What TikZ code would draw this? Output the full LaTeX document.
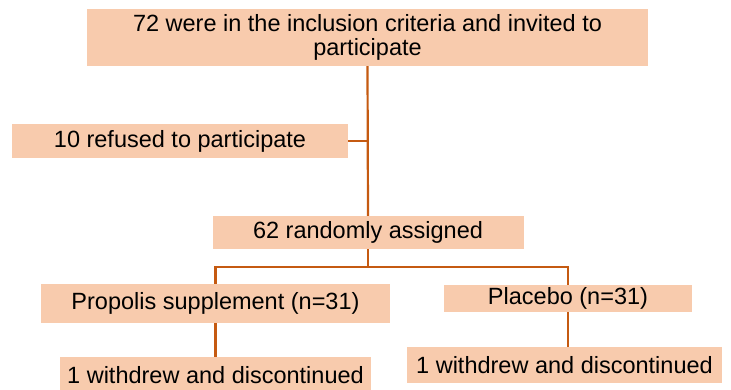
\documentclass[tikz,border=0pt]{standalone}
\usepackage{fontspec}
\setmainfont{Liberation Sans}
\usepackage{tikz}
\definecolor{boxpeach}{RGB}{248, 203, 173}
\definecolor{lineorange}{RGB}{197, 90, 17}

\begin{document}
\begin{tikzpicture}[x=1pt, y=-1pt,
    flowbox/.style={fill=boxpeach, inner sep=0pt, align=center, font=\fontsize{23.5}{24}\selectfont},
    link/.style={lineorange, line width=2.2pt}]
    \useasboundingbox (0,0) rectangle (731,390);

    % Enrolment and exclusion
    \node[flowbox, minimum width=561pt, minimum height=57pt] (invited) at (367.5,37.5) {72 were in the inclusion criteria and invited to\\participate};
    \node[flowbox, minimum width=336pt, minimum height=34pt] (refused) at (180,141) {10 refused to participate};
    \node[flowbox, minimum width=311pt, minimum height=33pt] (random) at (368,232.5) {62 randomly assigned};

    % Allocation
    \node[flowbox, minimum width=349pt, minimum height=39pt] (propolis) at (215.5,303.5) {Propolis supplement (n=31)};
    \node[flowbox, minimum width=248pt, minimum height=27pt] (placebo) at (568,298.5) {Placebo (n=31)};

    % Follow-up
    \node[flowbox, minimum width=311pt, minimum height=36pt] (lostprop) at (215.5,375) {1 withdrew and discontinued};
    \node[flowbox, minimum width=315pt, minimum height=36pt] (lostplac) at (564.5,365) {1 withdrew and discontinued};

    % Connectors
    \coordinate (split) at (368,267);
    \draw[link] (invited.south) -- (random.north);
    \draw[link] (refused.east) -- (refused.east -| invited.south);
    \draw[link] (random.south) -- (split);
    \draw[link] (propolis.north) |- (split) -| (placebo.north);
    \draw[link] (propolis.south) -- (lostprop.north);
    \draw[link] (placebo.south) -- (placebo.south |- lostplac.north);
\end{tikzpicture}
\end{document}
